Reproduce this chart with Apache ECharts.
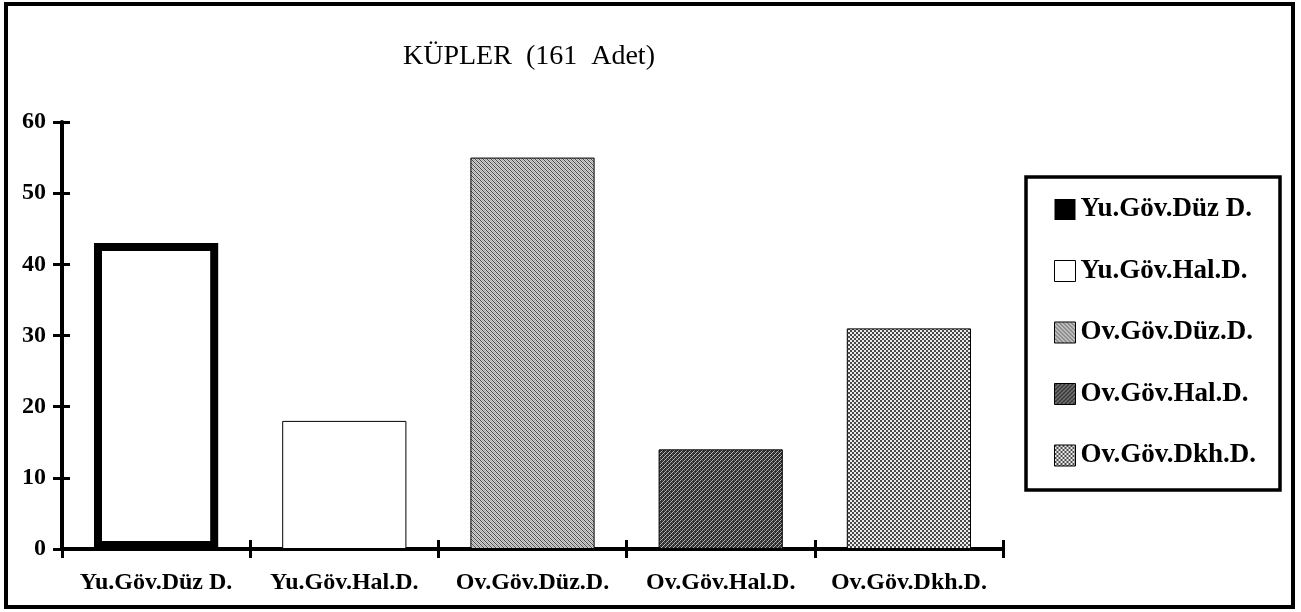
<!DOCTYPE html>
<html>
<head>
<meta charset="utf-8">
<script src="https://cdn.jsdelivr.net/npm/echarts@6/dist/echarts.min.js"></script>
<style>
  html, body { margin: 0; padding: 0; background: #fff; }
  #chart { width: 1301px; height: 612px; }
</style>
</head>
<body>
<div id="chart"></div>
<script>
// Jar shapes and how many of each were counted
const categories = ['Yu.Göv.Düz D.', 'Yu.Göv.Hal.D.', 'Ov.Göv.Düz.D.', 'Ov.Göv.Hal.D.', 'Ov.Göv.Dkh.D.'];
const counts = [43, 18, 55, 14, 31];
const chartTitle = 'KÜPLER  (161  Adet)';
const yMin = 0;
const yMax = 60;
const yStep = 10;

const SERIF = '"Liberation Serif", "DejaVu Serif", serif';

// Small repeating tiles used as bar fills
function makeTile(size, pick) {
  const c = document.createElement('canvas');
  c.width = size; c.height = size;
  const ctx = c.getContext('2d');
  for (let y = 0; y < size; y++) {
    for (let x = 0; x < size; x++) {
      ctx.fillStyle = pick(x, y);
      ctx.fillRect(x, y, 1, 1);
    }
  }
  return c;
}
const diagLight = makeTile(4, (x, y) => {
  const d = (x - y + 8) % 4;
  return d === 0 ? '#4a4a4a' : (d === 2 ? '#a6a6a6' : '#d2d2d2');
});
const crossDark = makeTile(4, (x, y) => ((x + y) % 4 === 0 ? '#b8b8b8' : ((x - y + 8) % 4 === 2 ? '#5a5a5a' : '#2c2c2c')));
const checker = makeTile(4, (x, y) => (((Math.floor(x / 2) + Math.floor(y / 2)) % 2) ? '#ececec' : '#4a4a4a'));

const fills = [
  { color: '#ffffff', borderColor: '#000', borderWidth: 8 },
  { color: '#ffffff', borderColor: '#000', borderWidth: 1 },
  { color: { image: diagLight, repeat: 'repeat' }, borderColor: '#000', borderWidth: 1 },
  { color: { image: crossDark, repeat: 'repeat' }, borderColor: '#000', borderWidth: 1 },
  { color: { image: checker, repeat: 'repeat' }, borderColor: '#000', borderWidth: 1 }
];

const series = categories.map((name, i) => ({
  name: name,
  type: 'bar',
  stack: 'all',
  barWidth: '66%',
  xAxisIndex: 0,
  yAxisIndex: 0,
  itemStyle: fills[i],
  data: counts.map((v, j) => (j === i ? v : '-')),
  emphasis: { disabled: true }
}));

const legendData = categories.map((name, i) => (
  i === 0
    ? { name: name, itemStyle: { color: '#000', borderWidth: 0 } }
    : { name: name, itemStyle: { borderColor: '#000', borderWidth: 1 } }
));

const axisLine = { show: true, lineStyle: { color: '#000', width: 4 } };
const tickStyle = { color: '#000', width: 3 };

const chart = echarts.init(document.getElementById('chart'), null, { renderer: 'canvas' });
chart.setOption({
  animation: false,
  backgroundColor: '#fff',
  title: {
    text: chartTitle,
    left: 398,
    top: 38,
    textStyle: { fontFamily: SERIF, fontSize: 28, fontWeight: 'normal', color: '#000' }
  },
  legend: {
    orient: 'vertical',
    left: 1049,
    top: 191,
    itemWidth: 21,
    itemHeight: 21,
    itemGap: 34.5,
    selectedMode: false,
    icon: 'rect',
    data: legendData,
    textStyle: { fontFamily: SERIF, fontSize: 27, fontWeight: 'bold', color: '#000' }
  },
  grid: { left: 62, right: 298, top: 122, bottom: 63, containLabel: false },
  xAxis: [
    {
      type: 'category',
      data: categories,
      axisLine: axisLine,
      axisTick: { show: true, inside: false, length: 9, lineStyle: tickStyle },
      axisLabel: { interval: 0, margin: 22, fontFamily: SERIF, fontSize: 24, fontWeight: 'bold', color: '#000' },
      splitLine: { show: false }
    },
    {
      type: 'category',
      data: categories,
      position: 'bottom',
      axisLine: { show: false },
      axisTick: { show: true, inside: true, length: 9, lineStyle: tickStyle },
      axisLabel: { show: false },
      splitLine: { show: false }
    }
  ],
  yAxis: [
    {
      type: 'value',
      min: yMin,
      max: yMax,
      interval: yStep,
      axisLine: axisLine,
      axisTick: { show: true, inside: false, length: 9, lineStyle: tickStyle },
      axisLabel: { margin: 16, fontFamily: SERIF, fontSize: 24, fontWeight: 'bold', color: '#000' },
      splitLine: { show: false }
    },
    {
      type: 'value',
      min: yMin,
      max: yMax,
      interval: yStep,
      position: 'left',
      axisLine: { show: false },
      axisTick: { show: true, inside: true, length: 8, lineStyle: tickStyle },
      axisLabel: { show: false },
      splitLine: { show: false }
    }
  ],
  graphic: [
    {
      type: 'rect',
      shape: { x: 6, y: 4, width: 1287, height: 603 },
      style: { fill: null, stroke: '#000', lineWidth: 4 },
      silent: true
    },
    {
      type: 'rect',
      shape: { x: 1026, y: 177, width: 254, height: 313 },
      style: { fill: null, stroke: '#000', lineWidth: 3.5 },
      silent: true
    }
  ],
  series: series
});
</script>
</body>
</html>
